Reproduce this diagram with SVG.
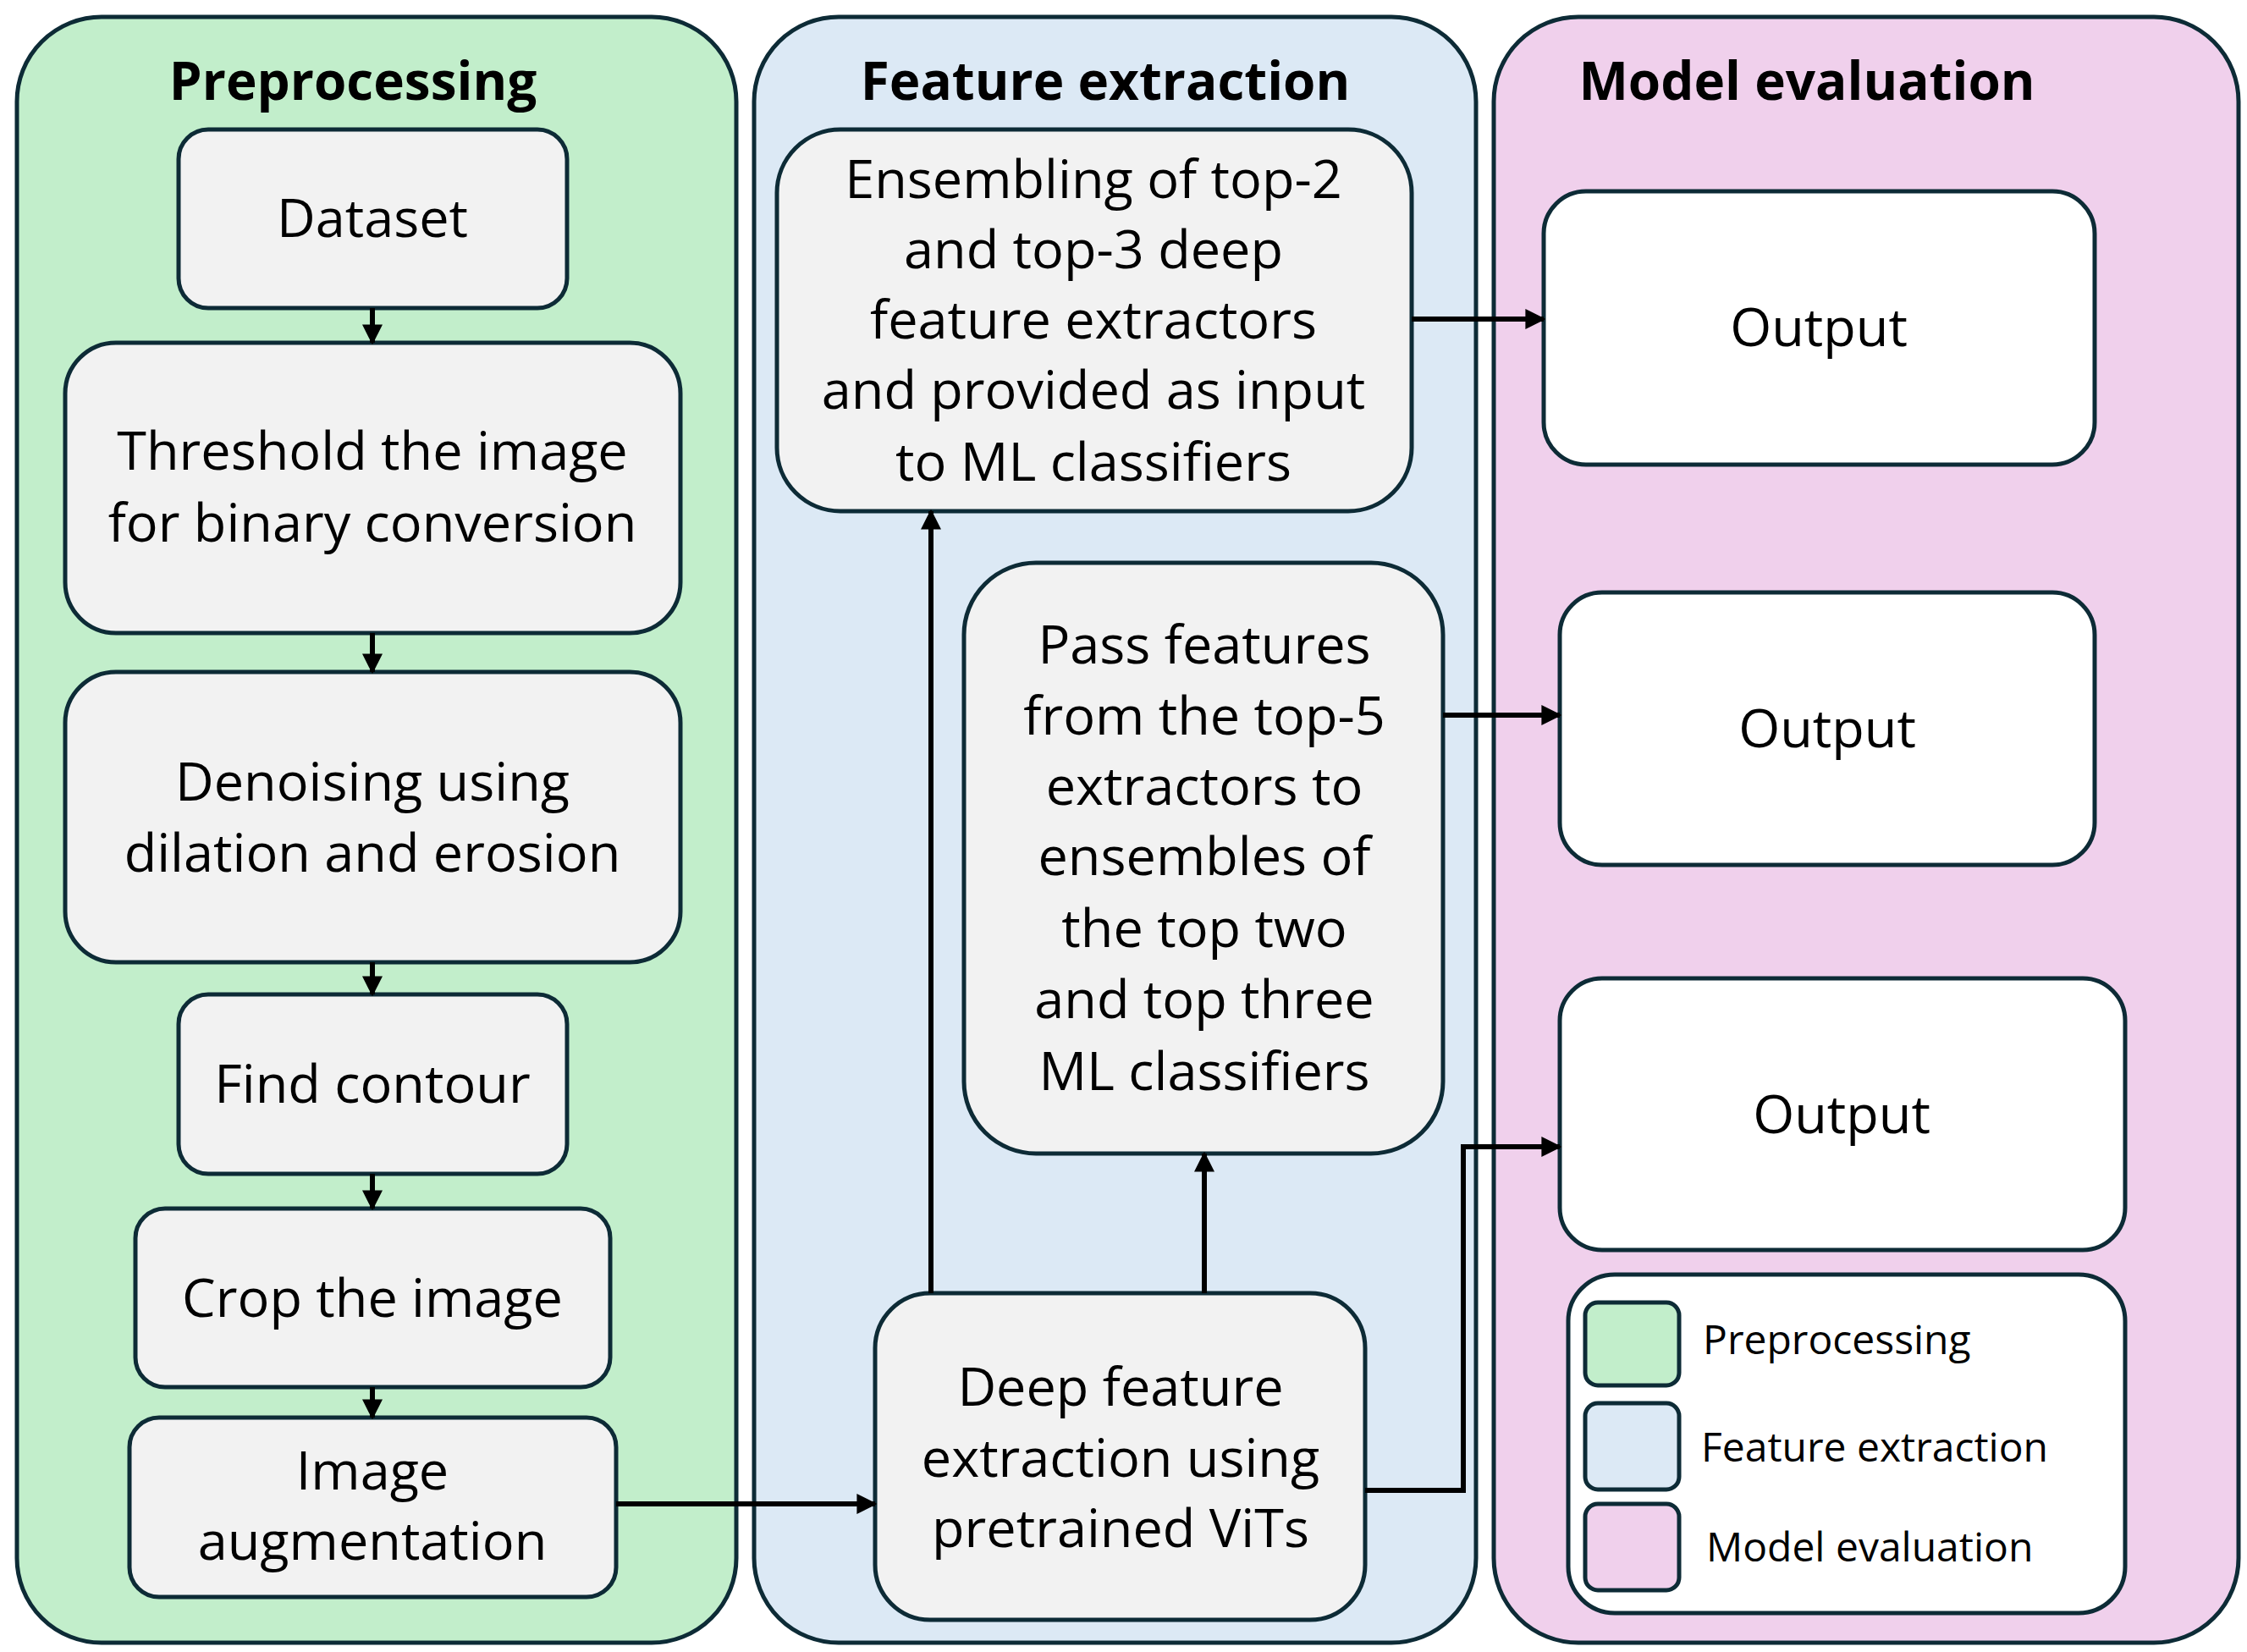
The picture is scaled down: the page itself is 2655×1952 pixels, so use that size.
<svg xmlns="http://www.w3.org/2000/svg" width="2655" height="1952" viewBox="0 0 2655 1952">
<defs>
<style>
.panel{stroke:#0d2b36;stroke-width:5}
.node{fill:#f2f2f2;stroke:#0d2b36;stroke-width:5}
.out{fill:#fff;stroke:#0d2b36;stroke-width:5}
.t{font-family:"Open Sans","Liberation Sans",Arial,sans-serif;font-size:63px;fill:#000;text-anchor:middle}
.h{font-family:"Open Sans","Liberation Sans",sans-serif;font-weight:bold;font-size:62px;fill:#000;text-anchor:middle}
.l{font-family:"Open Sans","Liberation Sans",Arial,sans-serif;font-size:48px;fill:#000}
.c{fill:none;stroke:#000;stroke-width:6}
</style>
<marker id="a" viewBox="0 0 10 10" refX="9" refY="5" markerWidth="4" markerHeight="4" orient="auto" markerUnits="strokeWidth"><path d="M0,0L10,5L0,10z" fill="#000"/></marker>
</defs>
<rect width="2655" height="1952" fill="#fff"/>
<g id="panel-pre"><rect class="panel" x="20" y="20" width="850" height="1921" rx="100" fill="#c2eecb"/><text class="h" x="417" y="118">Preprocessing</text></g>
<g id="panel-fe"><rect class="panel" x="891" y="20" width="853" height="1921" rx="100" fill="#dce9f5"/><text class="h" x="1306" y="118">Feature extraction</text></g>
<g id="panel-me"><rect class="panel" x="1765" y="20" width="880" height="1921" rx="100" fill="#f0d0ec"/><text class="h" x="2135" y="118">Model evaluation</text></g>
<g id="dataset"><rect class="node" x="211" y="153" width="459" height="211" rx="35"/><text class="t" x="440" y="280">Dataset</text></g>
<g id="threshold"><rect class="node" x="77" y="405" width="727" height="343" rx="60"/><text class="t" x="440" y="555">Threshold the image</text><text class="t" x="440" y="640">for binary conversion</text></g>
<g id="denoise"><rect class="node" x="77" y="794" width="727" height="343" rx="60"/><text class="t" x="440" y="946">Denoising using</text><text class="t" x="440" y="1030">dilation and erosion</text></g>
<g id="contour"><rect class="node" x="211" y="1175" width="459" height="212" rx="35"/><text class="t" x="440" y="1303">Find contour</text></g>
<g id="crop"><rect class="node" x="160" y="1428" width="561" height="211" rx="35"/><text class="t" x="440" y="1556">Crop the image</text></g>
<g id="augment"><rect class="node" x="153" y="1675" width="575" height="212" rx="35"/><text class="t" x="440" y="1760">Image</text><text class="t" x="440" y="1843">augmentation</text></g>
<g id="ensembling"><rect class="node" x="918" y="153" width="750" height="451" rx="75"/><text class="t" x="1292" y="234">Ensembling of top-2</text><text class="t" x="1292" y="317">and top-3 deep</text><text class="t" x="1292" y="400">feature extractors</text><text class="t" x="1292" y="483">and provided as input</text><text class="t" x="1292" y="568">to ML classifiers</text></g>
<g id="pass"><rect class="node" x="1139" y="665" width="566" height="698" rx="85"/><text class="t" x="1423" y="784">Pass features</text><text class="t" x="1423" y="868">from the top-5</text><text class="t" x="1423" y="951">extractors to</text><text class="t" x="1423" y="1034">ensembles of</text><text class="t" x="1423" y="1119">the top two</text><text class="t" x="1423" y="1203">and top three</text><text class="t" x="1423" y="1288">ML classifiers</text></g>
<g id="deep"><rect class="node" x="1034" y="1528" width="579" height="386" rx="65"/><text class="t" x="1324" y="1661">Deep feature</text><text class="t" x="1324" y="1745">extraction using</text><text class="t" x="1324" y="1828">pretrained ViTs</text></g>
<g id="out1"><rect class="out" x="1824" y="226" width="651" height="323" rx="50"/><text class="t" x="2149" y="409">Output</text></g>
<g id="out2"><rect class="out" x="1843" y="700" width="632" height="322" rx="50"/><text class="t" x="2159" y="883">Output</text></g>
<g id="out3"><rect class="out" x="1843" y="1156" width="668" height="321" rx="50"/><text class="t" x="2176" y="1339">Output</text></g>
<g id="legend"><rect class="out" x="1853" y="1506" width="658" height="400" rx="55"/>
<rect class="panel" x="1873" y="1539" width="111" height="98" rx="15" fill="#c2eecb"/>
<rect class="panel" x="1873" y="1658" width="111" height="102" rx="15" fill="#dce9f5"/>
<rect class="panel" x="1873" y="1777" width="111" height="102" rx="15" fill="#f0d0ec"/>
<text class="l" x="2012" y="1600">Preprocessing</text><text class="l" x="2010" y="1727">Feature extraction</text><text class="l" x="2016" y="1845">Model evaluation</text></g>
<g id="connectors">
<path class="c" d="M440,364V405" marker-end="url(#a)"/>
<path class="c" d="M440,748V794" marker-end="url(#a)"/>
<path class="c" d="M440,1137V1175" marker-end="url(#a)"/>
<path class="c" d="M440,1387V1428" marker-end="url(#a)"/>
<path class="c" d="M440,1639V1675" marker-end="url(#a)"/>
<path class="c" d="M728,1777H1034" marker-end="url(#a)"/>
<path class="c" d="M1100,1528V604" marker-end="url(#a)"/>
<path class="c" d="M1423,1528V1363" marker-end="url(#a)"/>
<path class="c" d="M1668,377H1824" marker-end="url(#a)"/>
<path class="c" d="M1705,845H1843" marker-end="url(#a)"/>
<path class="c" d="M1613,1761H1729V1355H1843" marker-end="url(#a)"/>
</g>
</svg>
